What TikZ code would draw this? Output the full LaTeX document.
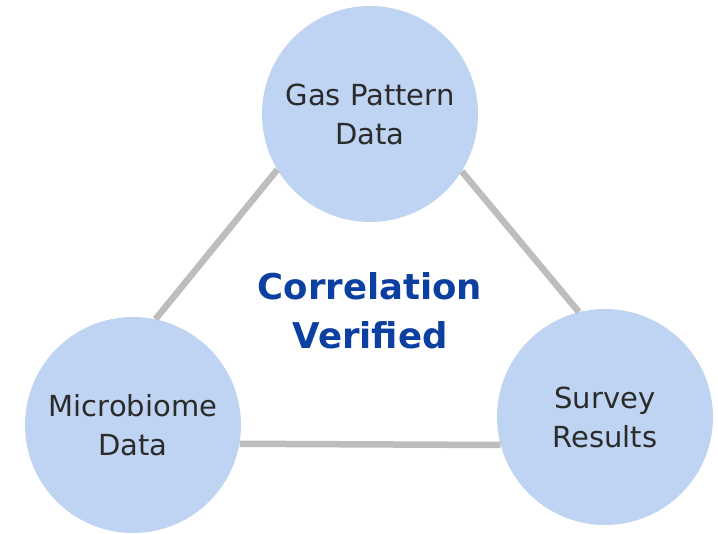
\documentclass[tikz,border=0pt]{standalone}
\usepackage{fontspec}
\setmainfont{DejaVu Sans}
\definecolor{circfill}{HTML}{BFD4F2}
\definecolor{linkgray}{HTML}{BDBDBD}
\definecolor{titleblue}{HTML}{0B3FA0}
\definecolor{labeltext}{HTML}{2B2B2B}
\begin{document}
\begin{tikzpicture}[x=1pt,y=-1pt,
  bubble/.style={circle, fill=circfill, minimum size=216pt, inner sep=0pt,
    align=center, text=labeltext, font=\fontsize{29}{39}\selectfont},
  link/.style={draw=linkgray, line width=6.5pt},
  title/.style={align=center, text=titleblue, font=\fontsize{35.5}{49}\selectfont\bfseries}]
\useasboundingbox (0,0) rectangle (718,534);
\node[bubble] (gas) at (370,114) {Gas Pattern\\Data};
\node[bubble] (micro) at (133,425) {Microbiome\\Data};
\node[bubble] (survey) at (605,417) {Survey\\Results};
\draw[link] (gas.211.5) -- (micro.78.2);
\draw[link] (gas.328.6) -- (survey.104.8);
\draw[link] (micro.-10.67) -- (survey.195.03);
\node[title] (corr) at (370,311) {Correlation\\Verified};
\end{tikzpicture}
\end{document}
